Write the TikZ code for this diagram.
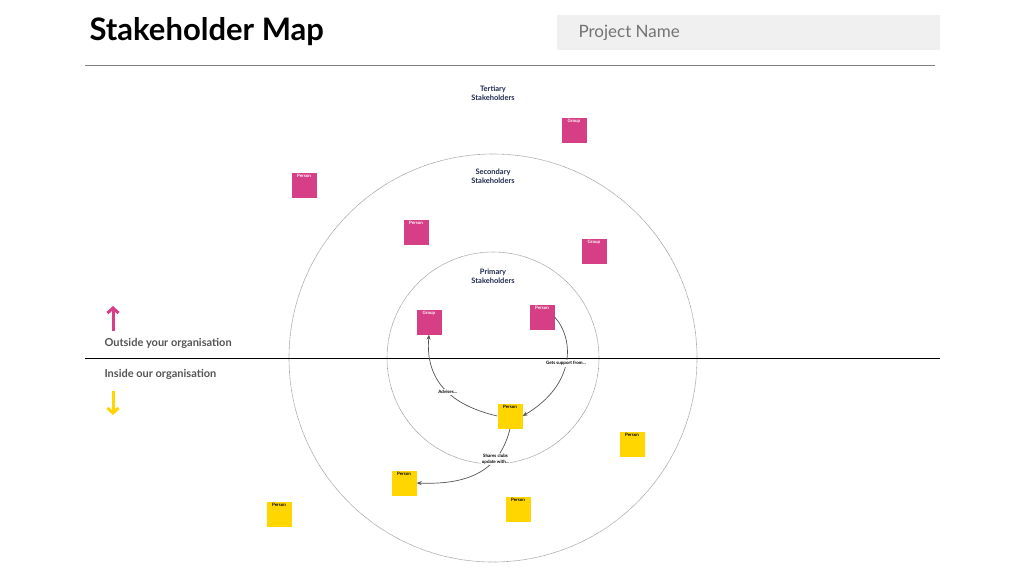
\documentclass[tikz,border=0pt]{standalone}
\usepackage{fontspec}
\setmainfont{Lato}
\usetikzlibrary{arrows.meta}
\definecolor{pk}{HTML}{D63F86}
\definecolor{yl}{HTML}{FFD600}
\definecolor{navy}{HTML}{1F2A4F}
\definecolor{gr}{HTML}{555555}
\begin{document}
\begin{tikzpicture}[x=1pt,y=-1pt,
  sq/.style={minimum size=25pt,inner sep=0pt},
  ps/.style={sq,fill=pk,label={[text=white,font=\fontsize{4.5}{5}\selectfont\bfseries,anchor=north,inner sep=1.5pt]north:#1}},
  ys/.style={sq,fill=yl,label={[text=black,font=\fontsize{4.5}{5}\selectfont\bfseries,anchor=north,inner sep=1.5pt]north:#1}},
  lvl/.style={text=navy,font=\fontsize{7.5}{8.5}\selectfont\bfseries,align=center},
  con/.style={draw=gr,line width=0.7pt,-{Stealth[length=5pt,width=4pt]}},
  cl/.style={fill=white,font=\fontsize{4.5}{5.5}\selectfont\bfseries,align=center,inner sep=1pt},
  ring/.style={circle,draw=gray!80,dash pattern=on 0.7pt off 0.5pt,line width=0.6pt,inner sep=0pt},
  side/.style={text=gr,font=\fontsize{11}{12}\selectfont\bfseries,anchor=west}]
\useasboundingbox (0,0) rectangle (1024,576);
\fill[white] (0,0) rectangle (1024,576);
\node[anchor=west,font=\fontsize{31}{34}\selectfont\bfseries] (title) at (86,32) {Stakeholder Map};
\node[fill=gray!12,minimum width=383pt,minimum height=35pt,anchor=north west,inner sep=0pt] (pbox) at (557,15) {};
\node[anchor=west,text=gray!90!black,font=\fontsize{17}{20}\selectfont] (pn) at (575,33) {Project Name};
\coordinate (tl) at (85,65); \coordinate (tr) at (935,65);
\draw[gray,line width=0.8pt] (tl) -- (tr);
\node[ring,minimum size=408pt] (outer) at (493,358) {};
\node[ring,minimum size=212pt] (inner) at (493,358) {};
\coordinate (ml) at (85,358); \coordinate (mr) at (940,358);
\draw[black,line width=0.7pt] (ml) -- (mr);
\node[lvl] (t3) at (493,93) {Tertiary\\Stakeholders};
\node[lvl] (t2) at (493,176) {Secondary\\Stakeholders};
\node[lvl] (t1) at (493,276) {Primary\\Stakeholders};
\node[ps=Group] (g1) at (574,130) {};
\node[ps=Person] (p1) at (304,185) {};
\node[ps=Person] (p2) at (416,232) {};
\node[ps=Group] (g2) at (594,251) {};
\node[ps=Group] (g3) at (429,322) {};
\node[ps=Person] (p3) at (542,317) {};
\node[ys=Person] (y1) at (510,416) {};
\node[ys=Person] (y2) at (632,444) {};
\node[ys=Person] (y3) at (404,483) {};
\node[ys=Person] (y4) at (518,509) {};
\node[ys=Person] (y5) at (279,514) {};
\draw[con] (p3.east) .. controls (575,340) and (575,385) .. node[cl,pos=0.5] {Gets support from...} (y1.east);
\draw[con] (y1.west) .. controls (450,405) and (425,380) .. node[cl,pos=0.45] {Advises...} (g3.south);
\draw[con] (y1.south) .. controls (500,470) and (470,485) .. node[cl,pos=0.3] {Shares clubs\\update with...} (y3.east);
\coordinate (a1s) at (113,331); \coordinate (a1e) at (113,306);
\draw[pk,line width=3pt,-{Straight Barb[length=5pt,width=11pt]}] (a1s) -- (a1e);
\coordinate (a2s) at (113,391); \coordinate (a2e) at (113,415);
\draw[yl,line width=3pt,-{Straight Barb[length=5pt,width=11pt]}] (a2s) -- (a2e);
\node[side] (out) at (101,343) {Outside your organisation};
\node[side] (in) at (101,374) {Inside our organisation};
\end{tikzpicture}
\end{document}
